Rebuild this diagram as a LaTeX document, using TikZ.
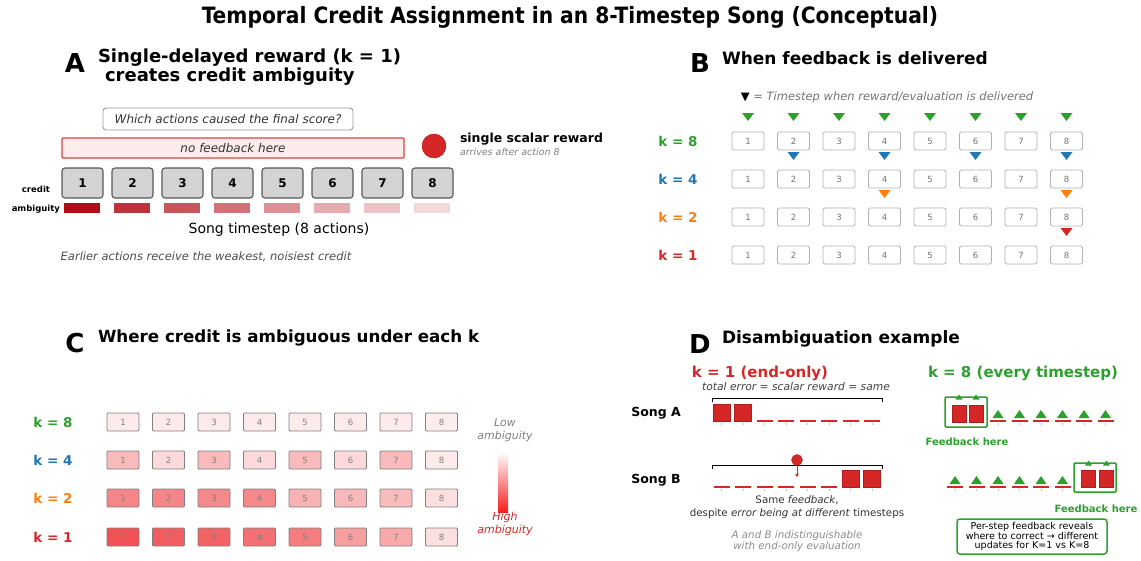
\documentclass[tikz,border=0pt]{standalone}
\usepackage{fontspec}
\setmainfont{DejaVu Sans}
\newfontfamily\condfont{DejaVu Sans Condensed}
\usepackage{xcolor}
\usepackage{tikz}
\usetikzlibrary{arrows.meta, positioning}
\definecolor{kgreen}{RGB}{44,160,44}
\definecolor{kblue}{RGB}{31,119,180}
\definecolor{korange}{RGB}{255,127,14}
\definecolor{kred}{RGB}{214,39,40}
\definecolor{ambred}{RGB}{178,12,22}
\definecolor{heatred}{RGB}{238,52,56}
\definecolor{barred}{RGB}{245,30,30}
\definecolor{nofbfill}{RGB}{253,236,236}
\definecolor{nofbline}{RGB}{228,64,64}
\definecolor{boxgray}{RGB}{211,211,211}
\newcommand{\fsz}[2]{\fontsize{#1}{#2}\selectfont}

\tikzset{
  every node/.style={inner sep=0pt, outer sep=0pt},
  plabel/.style={font=\fsz{26}{30}\bfseries},
  ptitle/.style={font=\fsz{17}{20}\bfseries, anchor=west},
  actbox/.style={draw=black!65, line width=1.1pt, fill=boxgray, rounded corners=3pt,
    minimum width=41pt, minimum height=30pt, font=\fsz{12}{14}\bfseries},
  ambbar/.style={minimum width=36pt, minimum height=10pt},
  stepbox/.style={draw=black!30, line width=0.9pt, fill=white, rounded corners=1.5pt,
    minimum width=32pt, minimum height=18pt, font=\fsz{8.5}{10}, text=black!55},
  heatbox/.style={draw=black!50, line width=0.9pt, rounded corners=1pt,
    minimum width=32pt, minimum height=18pt, font=\fsz{8.5}{10}, text=black!50},
  klabel/.style={font=\fsz{13.5}{16}\bfseries},
  errsq/.style={fill=kred, draw=kred!80!black, line width=0.4pt,
    minimum width=17pt, minimum height=17pt, anchor=south},
  fbsq/.style={errsq, minimum width=14pt},
  fbframe/.style={draw=kgreen, line width=1.5pt, rounded corners=1pt},
  okdash/.style={draw=kred, line width=2pt},
  slottick/.style={draw=black!25, line width=0.5pt},
  fbnote/.style={font=\fsz{10}{12}\bfseries, text=kgreen},
  tridown/.pic={\fill[pic actions] (-6,-4) -- (6,-4) -- (0,4) -- cycle;},
  triup/.pic={\fill[pic actions] (-5.5,4) -- (5.5,4) -- (0,-4) -- cycle;},
  tinyup/.pic={\fill[pic actions] (-3.5,2.5) -- (3.5,2.5) -- (0,-2.5) -- cycle;},
}

\begin{document}
\begin{tikzpicture}[x=1pt, y=-1pt]
\useasboundingbox (0,0) rectangle (1141,560);

\node[font=\condfont\fsz{22.5}{26}\bfseries] (title) at (570,17)
  {Temporal Credit Assignment in an 8-Timestep Song (Conceptual)};

% --- A: single delayed reward
\node[plabel] (labA) at (75,63) {A};
\node[ptitle, font=\fsz{18}{21}\bfseries] (titA1) at (98,58) {Single-delayed reward (k = 1)};
\node[ptitle, font=\fsz{18}{21}\bfseries] (titA2) at (105,77) {creates credit ambiguity};
\node[draw=black!40, line width=0.9pt, rounded corners=3pt, fill=white,
  minimum width=250pt, minimum height=22pt, font=\fsz{12}{14}\itshape, text=black!80]
  (question) at (228,119) {Which actions caused the final score?};
\node[draw=nofbline, line width=1.1pt, fill=nofbfill, rounded corners=1pt,
  minimum width=342pt, minimum height=20pt, font=\fsz{12}{14}\itshape, text=black!80]
  (nofb) at (233,148) {no feedback here};
\node[circle, fill=kred, draw=kred!85!black, line width=0.5pt, minimum size=24pt]
  (reward) at (434,146) {};
\node[anchor=west, font=\fsz{12.5}{15}\bfseries] (rewtxt) at (460,139) {single scalar reward};
\node[anchor=west, font=\fsz{9.5}{11}\itshape, text=black!50] (rewsub) at (460,152)
  {arrives after action 8};
\foreach \i in {1,...,8}
  \node[actbox] (a\i) at ({82.5+50*(\i-1)},183) {\i};
\foreach \i/\v in {1/100,2/84,3/70,4/58,5/46,6/35,7/25,8/16}
  \node[ambbar, fill=ambred!\v!white] (amb\i) at ({82+50*(\i-1)},208) {};
\node[anchor=east, font=\fsz{8.5}{10}\bfseries] (credlab) at (50,189) {credit};
\node[anchor=east, font=\fsz{8.5}{10}\bfseries] (amblab) at (60,209) {ambiguity};
\node[font=\fsz{14}{16}] (xlabA) at (279,230) {Song timestep (8 actions)};
\node[font=\fsz{11.5}{13}\itshape, text=black!70] (noteA) at (206,257)
  {Earlier actions receive the weakest, noisiest credit};

% --- B: feedback timing
\node[plabel] (labB) at (700,63) {B};
\node[ptitle] (titB) at (722,58) {When feedback is delivered};
\node[font=\fsz{11.5}{13}\itshape, text=black!55] (legB) at (887,97)
  {{\upshape\color{black}▼} = Timestep when reward/evaluation is delivered};
\foreach \y/\k/\c in {141/8/kgreen, 179/4/kblue, 217/2/korange, 255/1/kred}{
  \node[klabel, text=\c] (bk\k) at (678,\y) {k = \k};
  \foreach \i in {1,...,8}
    \node[stepbox] (b\k-\i) at ({748+45.5*(\i-1)},\y) {\i};
}
\foreach \i in {1,...,8}
  \path (b8-\i) ++(0,-24) pic[fill=kgreen] {tridown};
\foreach \i in {2,4,6,8}
  \path (b8-\i) ++(0,15) pic[fill=kblue] {tridown};
\foreach \i in {4,8}
  \path (b4-\i) ++(0,15) pic[fill=korange] {tridown};
\path (b2-8) ++(0,15) pic[fill=kred] {tridown};

% --- C: ambiguity heat map
\node[plabel] (labC) at (75,343) {C};
\node[ptitle, font=\fsz{16.7}{20}\bfseries] (titC) at (98,338) {Where credit is ambiguous under each k};
\foreach \y/\k/\c in {422/8/kgreen, 460/4/kblue, 498/2/korange, 537/1/kred}
  \node[klabel, text=\c] (ck\k) at (53,\y) {k = \k};
\foreach \i/\v in {1/10,2/10,3/10,4/10,5/10,6/10,7/10,8/9}
  \node[heatbox, fill=heatred!\v!white] (c8-\i) at ({123+45.5*(\i-1)},422) {\i};
\foreach \i/\v in {1/34,2/18,3/34,4/18,5/34,6/18,7/34,8/10}
  \node[heatbox, fill=heatred!\v!white] (c4-\i) at ({123+45.5*(\i-1)},460) {\i};
\foreach \i/\v in {1/60,2/60,3/58,4/58,5/38,6/35,7/33,8/16}
  \node[heatbox, fill=heatred!\v!white] (c2-\i) at ({123+45.5*(\i-1)},498) {\i};
\foreach \i/\v in {1/85,2/80,3/77,4/70,5/64,6/48,7/42,8/16}
  \node[heatbox, fill=heatred!\v!white] (c1-\i) at ({123+45.5*(\i-1)},537) {\i};
\node[align=center, font=\fsz{11}{13}\itshape, text=black!50] (lowamb) at (505,430)
  {Low\\ambiguity};
\shade[top color=white, bottom color=barred] (498,452) rectangle (508,512);
\node[align=center, font=\fsz{11}{13}\itshape, text=kred] (highamb) at (505,524)
  {High\\ambiguity};

% --- D: two songs, two k
\node[plabel] (labD) at (700,344) {D};
\node[ptitle] (titD) at (722,339) {Disambiguation example};
\node[font=\fsz{15}{18}\bfseries, text=kred] (dk1) at (760,373) {k = 1 (end-only)};
\node[font=\fsz{10.7}{12}\itshape, text=black!75] (dsum) at (796,387)
  {total error = scalar reward = same};
\node[font=\fsz{15}{18}\bfseries, text=kgreen] (dk8) at (1023,373) {k = 8 (every timestep)};
\node[font=\fsz{12.5}{15}\bfseries] (songA) at (656,413) {Song A};
\node[font=\fsz{12.5}{15}\bfseries] (songB) at (656,480) {Song B};

% end-only rows
\foreach \j in {1,...,8}{
  \coordinate (sa\j) at ({721.5+21.5*(\j-1)},421);
  \coordinate (sb\j) at ({721.5+21.5*(\j-1)},487);
  \draw[slottick] (sa\j) ++(0,1.5) -- ++(0,2.5);
  \draw[slottick] (sb\j) ++(0,1.5) -- ++(0,2.5);
}
\foreach \j in {1,2} \node[errsq] (qa\j) at (sa\j) {};
\foreach \j in {3,...,8} \draw[okdash] ([xshift=-8pt]sa\j) -- ([xshift=8pt]sa\j);
\foreach \j in {1,...,6} \draw[okdash] ([xshift=-8pt]sb\j) -- ([xshift=8pt]sb\j);
\foreach \j in {7,8} \node[errsq] (qb\j) at (sb\j) {};
\draw[line width=0.9pt] (712,402) -- (712,398) -- (882,398) -- (882,402);
\draw[line width=0.9pt] (712,469) -- (712,465) -- (882,465) -- (882,469);
\node[circle, fill=kred, draw=kred!85!black, line width=0.4pt, minimum size=11pt]
  (fbdot) at (797,460) {};
\coordinate (fbend) at (797,477);
\draw[kred, line width=1pt, -{Stealth[length=3.5pt, width=4pt]}] (fbdot) -- (fbend);
\node[align=center, font=\fsz{10.3}{13}, text=black!80] (samefb) at (797,507)
  {Same \textit{feedback},\\despite \textit{error being at different} timesteps};
\node[align=center, font=\fsz{10.3}{11.5}\itshape, text=black!45] (indist) at (797,541)
  {A and B indistinguishable\\with end-only evaluation};

% every-step rows
\foreach \j in {1,...,6}{
  \coordinate (fa\j) at ({998+21.5*(\j-1)},421);
  \coordinate (fb\j) at ({955+21.5*(\j-1)},487);
  \draw[okdash] ([xshift=-8pt]fa\j) -- ([xshift=8pt]fa\j);
  \draw[okdash] ([xshift=-8pt]fb\j) -- ([xshift=8pt]fb\j);
  \draw[slottick] (fa\j) ++(0,1.5) -- ++(0,2.5);
  \draw[slottick] (fb\j) ++(0,1.5) -- ++(0,2.5);
  \path (fa\j) ++(0,-7) pic[fill=kgreen] {triup};
  \path (fb\j) ++(0,-7) pic[fill=kgreen] {triup};
}
\node[fbsq] (ga1) at (959,422) {};
\node[fbsq] (ga2) at (976,422) {};
\node[fbsq] (gb1) at (1088.5,487) {};
\node[fbsq] (gb2) at (1106.5,487) {};
\node[fbframe, minimum width=42pt, minimum height=30pt] (frameA) at (966,412) {};
\node[fbframe, minimum width=42pt, minimum height=29pt] (frameB) at (1095,477.5) {};
\foreach \n in {ga1,ga2}
  \path (\n.center |- frameA.north) pic[fill=kgreen] {tinyup};
\foreach \n in {gb1,gb2}
  \path (\n.center |- frameB.north) pic[fill=kgreen] {tinyup};
\node[fbnote] (fbhereA) at (967,442) {Feedback here};
\node[fbnote] (fbhereB) at (1096,509) {Feedback here};
\node[draw=kgreen, line width=1.5pt, rounded corners=3pt, fill=white,
  minimum width=150pt, minimum height=35pt, align=center, font=\fsz{9.5}{9.5}]
  (perstep) at (1032,536.5)
  {Per-step feedback reveals\\where to correct → different\\updates for K=1 vs K=8};
\end{tikzpicture}
\end{document}
